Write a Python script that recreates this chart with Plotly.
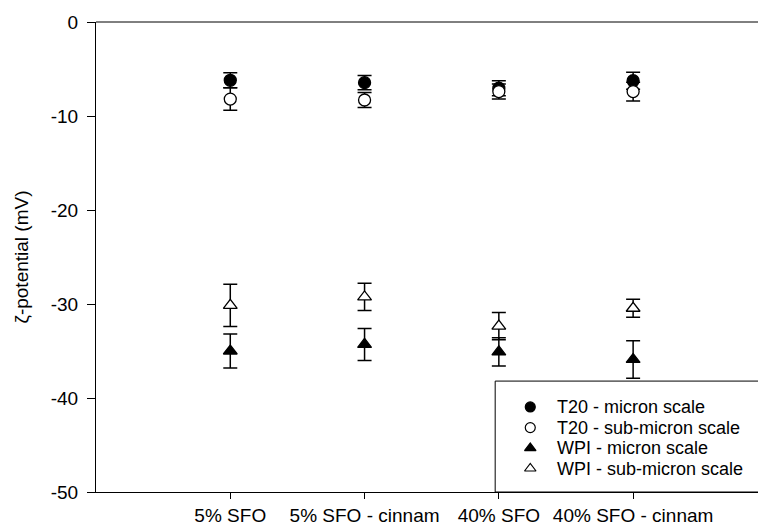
import plotly.graph_objects as go

categories = ["5% SFO", "5% SFO - cinnam", "40% SFO", "40% SFO - cinnam"]
positions = [1, 2, 3, 4]
y_ticks = [0, -10, -20, -30, -40, -50]
y_tick_labels = ["0", "-10", "-20", "-30", "-40", "-50"]

t20_micron = [-6.2, -6.45, -7.05, -6.25]
t20_micron_err = [0.8, 0.75, 0.8, 0.9]
t20_sub = [-8.2, -8.3, -7.4, -7.4]
t20_sub_err = [1.2, 0.8, 0.8, 1.0]
wpi_micron = [-35.0, -34.3, -35.1, -35.9]
wpi_micron_err = [1.8, 1.7, 1.5, 2.0]
wpi_sub = [-30.15, -29.25, -32.35, -30.45]
wpi_sub_err = [2.25, 1.45, 1.45, 0.95]

series_names = ["T20 - micron scale", "T20 - sub-micron scale",
                "WPI - micron scale", "WPI - sub-micron scale"]
series_vals = [t20_micron, t20_sub, wpi_micron, wpi_sub]
series_errs = [t20_micron_err, t20_sub_err, wpi_micron_err, wpi_sub_err]
series_symbols = ["circle", "circle", "triangle-up", "triangle-up"]
series_fills = ["black", "white", "black", "white"]

FONT = "Arial, Liberation Sans, sans-serif"
FS = 19
LEG_FS = 18
fig = go.Figure()
for name, vals, errs, sym, fill in zip(series_names, series_vals, series_errs,
                                       series_symbols, series_fills):
    fig.add_trace(go.Scatter(
        x=positions, y=vals, mode="markers", name=name, showlegend=False,
        marker=dict(symbol=sym, size=12, color=fill,
                    line=dict(color="black", width=1.3)),
        error_y=dict(type="data", array=errs, visible=True, color="black",
                     thickness=1.5, width=7),
    ))

# Manual legend (keys drawn on an overlay axis spanning the plot area)
leg_key_x = 0.656
leg_text_x = 0.695
leg_rows = [0.181, 0.137, 0.0935, 0.050]
for name, sym, fill, ry in zip(series_names, series_symbols, series_fills, leg_rows):
    fig.add_trace(go.Scatter(
        x=[leg_key_x], y=[ry], xaxis="x2", yaxis="y2", mode="markers",
        showlegend=False, hoverinfo="skip",
        marker=dict(symbol=sym, size=10, color=fill, line=dict(color="black", width=1.2)),
    ))
    fig.add_annotation(x=leg_text_x, y=ry, xref="paper", yref="paper", text=name,
                       showarrow=False, xanchor="left", yanchor="middle", borderpad=0,
                       font=dict(family=FONT, size=LEG_FS, color="black"))

fig.add_shape(type="rect", xref="paper", yref="paper", x0=0.603, x1=1.02, y0=0, y1=0.236,
              line=dict(color="black", width=1), fillcolor="rgba(0,0,0,0)", layer="above")
fig.add_shape(type="line", xref="paper", yref="paper", x0=0, x1=1, y0=1, y1=1,
              line=dict(color="black", width=1))

fig.update_layout(
    width=758, height=528,
    margin=dict(l=96, r=0, t=22, b=36),
    plot_bgcolor="white", paper_bgcolor="white",
    font=dict(family=FONT, size=FS, color="black"),
    showlegend=False,
    xaxis=dict(range=[0, 4.93], tickmode="array", tickvals=positions, ticktext=categories,
               showgrid=False, zeroline=False, showline=True, linecolor="black", linewidth=1,
               ticks="outside", ticklen=6, tickcolor="black",
               tickfont=dict(family=FONT, size=FS)),
    yaxis=dict(range=[-50, 0], tickmode="array", tickvals=y_ticks, ticktext=y_tick_labels,
               showgrid=False, zeroline=False, showline=True, linecolor="black", linewidth=1,
               ticks="outside", ticklen=8, tickcolor="black", ticklabelstandoff=5,
               tickfont=dict(family=FONT, size=FS),
               title=dict(text="ζ-potential (mV)", font=dict(family=FONT, size=FS), standoff=17)),
    xaxis2=dict(range=[0, 1], overlaying="x", visible=False, fixedrange=True),
    yaxis2=dict(range=[0, 1], overlaying="y", visible=False, fixedrange=True),
)

fig.write_html("out.html")
